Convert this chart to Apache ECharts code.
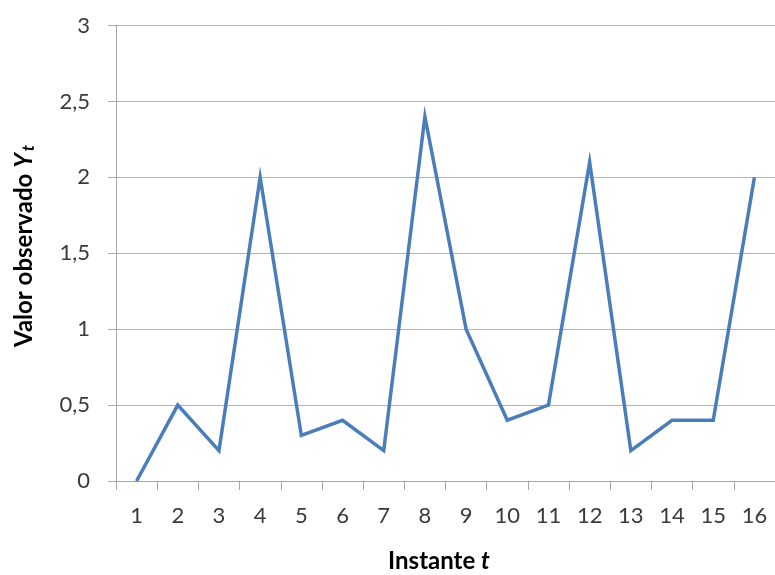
<!DOCTYPE html>
<html><head><meta charset="utf-8">
<script src="https://cdn.jsdelivr.net/npm/echarts@6/dist/echarts.min.js"></script>
<style>html,body{margin:0;padding:0;background:#fff}#c{width:775px;height:575px}</style>
</head><body><div id="c"></div>
<script>
const categories = ['1','2','3','4','5','6','7','8','9','10','11','12','13','14','15','16'];
const values = [0, 0.5, 0.2, 2, 0.3, 0.4, 0.2, 2.4, 1, 0.4, 0.5, 2.1, 0.2, 0.4, 0.4, 2];
const yTicks = [0, 0.5, 1, 1.5, 2, 2.5, 3];

const font = 'Lato, "Open Sans", sans-serif';
const chart = echarts.init(document.getElementById('c'), null, {renderer: 'canvas'});
chart.setOption({
  animation: false,
  grid: {left: 116, top: 25.5, width: 661, height: 455.5, containLabel: false},
  xAxis: {
    type: 'category', data: categories, boundaryGap: true,
    axisLine: {show: true, lineStyle: {color: '#a6a6a6', width: 1}},
    axisTick: {show: true, length: 9, lineStyle: {color: '#a6a6a6'}},
    axisLabel: {color: '#3a3a3a', fontSize: 22, fontFamily: font, margin: 24},
    splitLine: {show: false}
  },
  yAxis: {
    type: 'value', min: 0, max: 3, interval: 0.5,
    axisLine: {show: true, lineStyle: {color: '#a6a6a6', width: 1}},
    axisTick: {show: true, length: 8, lineStyle: {color: '#a6a6a6'}},
    axisLabel: {color: '#3a3a3a', fontSize: 22, fontFamily: font, margin: 26,
      formatter: v => yTicks.includes(v) ? String(v).replace('.', ',') : ''},
    splitLine: {show: true, lineStyle: {color: '#b3b3b3', width: 1}}
  },
  graphic: [
    {type: 'text', x: 439, y: 561, style: {
      rich: {b: {fontFamily: font, fontWeight: 'bold', fontSize: 24, fill: '#000'},
             i: {fontFamily: font, fontWeight: 'bold', fontStyle: 'italic', fontSize: 24, fill: '#000'}},
      text: '{b|Instante }{i|t}', align: 'center', verticalAlign: 'middle'}},
    {type: 'text', x: 24, y: 246, rotation: Math.PI / 2, style: {
      rich: {b: {fontFamily: font, fontWeight: 'bold', fontSize: 24, fill: '#000'},
             i: {fontFamily: font, fontWeight: 'bold', fontStyle: 'italic', fontSize: 24, fill: '#000'},
             s: {fontFamily: font, fontWeight: 'bold', fontStyle: 'italic', fontSize: 17, fill: '#000', padding: [9, 0, 0, 2]}},
      text: '{b|Valor observado }{i|Y}{s|t}', align: 'center', verticalAlign: 'middle'}}
  ],
  series: [{
    type: 'line', data: values, symbol: 'none',
    lineStyle: {color: '#4a7ebb', width: 3.5, join: 'miter'}
  }]
});
</script></body></html>
